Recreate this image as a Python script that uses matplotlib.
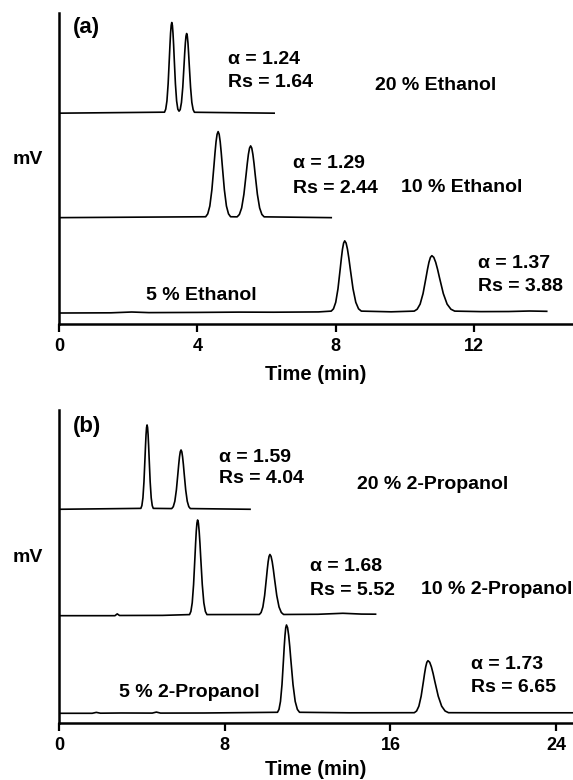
import matplotlib
matplotlib.use("Agg")
import matplotlib.pyplot as plt

plt.rcParams['font.family'] = ['Liberation Sans', 'DejaVu Sans']
plt.rcParams['font.weight'] = 'bold'

# ---- panel (a): ethanol, time in min, signal above baseline (a.u.)
eth20_t = [0.0, 3.05, 3.085, 3.12, 3.155, 3.19, 3.208, 3.225, 3.243, 3.26,
           3.278, 3.295, 3.313, 3.33, 3.365, 3.40, 3.435, 3.47,
           3.503, 3.54, 3.578, 3.615, 3.634, 3.653, 3.671, 3.69,
           3.709, 3.728, 3.746, 3.765, 3.803, 3.84, 3.878, 3.915, 6.22]
eth20_v = [0.0, 1.0, 4.0, 12.2, 29.4, 55.0, 68.4, 79.9, 87.8, 90.6,
           87.8, 79.9, 68.4, 55.0, 29.4, 12.2, 4.0, 2.0,
           3.5, 10.7, 25.9, 48.3, 60.1, 70.2, 77.1, 79.6,
           77.1, 70.2, 60.1, 48.3, 25.9, 10.7, 3.5, 0.9, 0.0]

eth10_t = [0.0, 4.24, 4.30, 4.36, 4.42, 4.48, 4.51, 4.54, 4.57, 4.60,
           4.63, 4.66, 4.69, 4.72, 4.78, 4.84, 4.90, 4.96,
           5.15, 5.215, 5.28, 5.345, 5.41, 5.443, 5.475, 5.508, 5.54,
           5.573, 5.605, 5.638, 5.67, 5.735, 5.80, 5.865, 5.93, 7.87]
eth10_v = [0.0, 0.9, 3.8, 11.6, 28.0, 52.2, 64.9, 75.9, 83.3, 86.0,
           83.3, 75.9, 64.9, 52.2, 28.0, 11.6, 3.8, 0.9,
           0.8, 3.2, 9.7, 23.3, 43.5, 54.1, 63.2, 69.5, 71.7,
           69.5, 63.2, 54.1, 43.5, 23.3, 9.7, 3.2, 0.8, 0.0]

eth5_t = [0.0, 1.5, 2.1, 2.6, 4.0, 5.2, 6.2, 7.5,
          7.87, 7.935, 8.00, 8.065, 8.13, 8.163, 8.195, 8.228, 8.26,
          8.30, 8.34, 8.38, 8.42, 8.50, 8.58, 8.66, 8.74, 9.6,
          10.27, 10.355, 10.44, 10.525, 10.61, 10.653, 10.695, 10.738, 10.78,
          10.835, 10.89, 10.945, 11.00, 11.11, 11.22, 11.33, 11.44,
          12.2, 13.0, 13.6, 14.1]
eth5_v = [0.0, 0.2, 1.0, 0.4, 0.6, 0.9, 0.8, 1.1,
          1.9, 4.2, 10.7, 24.2, 44.2, 54.7, 63.7, 69.9, 72.1,
          69.9, 63.7, 54.7, 44.2, 24.2, 10.7, 4.2, 1.9, 1.2,
          1.9, 3.8, 8.9, 19.5, 35.3, 43.6, 50.7, 55.6, 57.3,
          55.6, 50.7, 43.6, 35.3, 19.5, 8.9, 3.8, 1.9,
          1.4, 1.5, 2.0, 1.7]

# ---- panel (b): 2-propanol
pro20_t = [0.0, 3.95, 4.00, 4.05, 4.10, 4.15, 4.175, 4.20, 4.225, 4.25,
           4.275, 4.30, 4.325, 4.35, 4.40, 4.45, 4.50, 4.55,
           5.44, 5.515, 5.59, 5.665, 5.74, 5.778, 5.815, 5.853, 5.89,
           5.928, 5.965, 6.003, 6.04, 6.115, 6.19, 6.265, 6.34, 9.22]
pro20_v = [0.0, 0.9, 3.7, 11.4, 27.4, 51.2, 63.6, 74.4, 81.7, 84.3,
           81.7, 74.4, 63.6, 51.2, 27.4, 11.4, 3.7, 0.9,
           0.7, 2.6, 8.0, 19.3, 36.0, 44.8, 52.3, 57.5, 59.3,
           57.5, 52.3, 44.8, 36.0, 19.3, 8.0, 2.6, 0.7, 0.0]

pro10_t = [0.0, 2.7, 2.81, 2.92, 5.0,
           6.30, 6.365, 6.43, 6.495, 6.56, 6.593, 6.625, 6.658, 6.69,
           6.728, 6.765, 6.803, 6.84, 6.915, 6.99, 7.065, 7.14,
           9.67, 9.755, 9.84, 9.925, 10.01, 10.053, 10.095, 10.138, 10.18,
           10.235, 10.29, 10.345, 10.40, 10.51, 10.62, 10.73, 10.84,
           12.5, 13.7, 14.6, 15.28]
pro10_v = [0.0, 0.0, 1.8, 0.2, 0.3,
           1.1, 4.2, 12.9, 31.1, 58.1, 72.3, 84.4, 92.7, 95.7,
           92.7, 84.4, 72.3, 58.1, 31.1, 12.9, 4.2, 1.1,
           1.2, 3.2, 8.7, 20.2, 37.3, 46.3, 54.0, 59.3, 61.2,
           59.3, 54.0, 46.3, 37.3, 20.2, 8.7, 3.2, 1.2,
           1.4, 2.4, 1.6, 1.5]

pro5_t = [0.0, 1.6, 1.8, 2.0, 3.0, 4.5, 4.7, 4.9, 7.0,
          10.545, 10.618, 10.69, 10.763, 10.835, 10.871, 10.908, 10.944, 10.98,
          11.033, 11.085, 11.138, 11.19, 11.295, 11.40, 11.505, 11.61, 14.0,
          17.15, 17.26, 17.37, 17.48, 17.59, 17.645, 17.70, 17.755, 17.81,
          17.893, 17.975, 18.058, 18.14, 18.305, 18.47, 18.635, 18.80, 21.0, 25.0]
pro5_v = [0.0, 0.0, 0.9, 0.1, 0.3, 0.2, 1.2, 0.2, 0.3,
          1.0, 3.9, 11.9, 28.7, 53.6, 66.7, 77.9, 85.6, 88.3,
          85.6, 77.9, 66.7, 53.6, 28.7, 11.9, 3.9, 1.0, 0.5,
          0.6, 2.3, 7.1, 17.1, 31.9, 39.7, 46.4, 51.0, 52.6,
          51.0, 46.4, 39.7, 31.9, 17.1, 7.1, 2.3, 0.6, 0.5, 0.5]

eth_labels = ['20 % Ethanol', '10 % Ethanol', '5 % Ethanol']
eth_alpha = ['1.24', '1.29', '1.37']
eth_rs = ['1.64', '2.44', '3.88']
pro_labels = ['20 % 2-Propanol', '10 % 2-Propanol', '5 % 2-Propanol']
pro_alpha = ['1.59', '1.68', '1.73']
pro_rs = ['4.04', '5.52', '6.65']

fig = plt.figure(figsize=(5.73, 7.8), dpi=100)
axA = fig.add_axes([0.103, 0.5842, 0.897, 0.399])
axB = fig.add_axes([0.103, 0.0727, 0.897, 0.4017])

FS = 14


def style(ax, xmax, ymax, ticks, pad):
    ax.set_xlim(0, xmax)
    ax.set_ylim(0, ymax)
    for s in ['top', 'right']:
        ax.spines[s].set_visible(False)
    ax.spines['left'].set_linewidth(1.8)
    ax.spines['bottom'].set_linewidth(1.8)
    ax.set_yticks([])
    ax.set_xticks(ticks)
    ax.tick_params(axis='x', length=6, width=1.6, pad=4, labelsize=13)
    for lab in ax.get_xticklabels():
        lab.set_fontweight('bold')
    ax.set_xlabel('Time (min)', fontsize=14.5, fontweight='bold', labelpad=pad)
    ax.text(-0.06, 0.53, 'mV', transform=ax.transAxes, ha='center', va='center',
            fontsize=14, fontweight='bold')


def trace(ax, t, v, base):
    ax.plot(t, [base + y for y in v], color='black', lw=1.2,
            solid_joinstyle='round')


# panel a
style(axA, 14.86, 311, [0, 4, 8, 12], 7)
trace(axA, eth20_t, eth20_v, 211)
trace(axA, eth10_t, eth10_v, 106.6)
trace(axA, eth5_t, eth5_v, 11.3)
axA.text(0.405, 297, '(a)', fontsize=16, fontweight='bold', va='center')
for (xa, ya, yr), a, r in zip([(4.88, 264.3, 241.3), (6.76, 161, 136), (12.11, 60.3, 37.3)],
                              eth_alpha, eth_rs):
    axA.text(xa, ya, 'α = ' + a, fontsize=FS, fontweight='bold', va='center')
    axA.text(xa, yr, 'Rs = ' + r, fontsize=FS, fontweight='bold', va='center')
for (xl, yl), lab in zip([(9.14, 238.3), (9.89, 136.3), (2.51, 29.3)], eth_labels):
    axA.text(xl, yl, lab, fontsize=FS, fontweight='bold', va='center')

# panel b
style(axB, 24.81, 313.3, [0, 8, 16, 24], 4)
trace(axB, pro20_t, pro20_v, 214)
trace(axB, pro10_t, pro10_v, 107.6)
trace(axB, pro5_t, pro5_v, 10)
axB.text(0.676, 296.3, '(b)', fontsize=16, fontweight='bold', va='center')
for (xa, ya, yr), a, r in zip([(7.74, 265.3, 244.3), (12.1, 156.3, 132.3), (19.9, 58.3, 35.6)],
                              pro_alpha, pro_rs):
    axB.text(xa, ya, 'α = ' + a, fontsize=FS, fontweight='bold', va='center')
    axB.text(xa, yr, 'Rs = ' + r, fontsize=FS, fontweight='bold', va='center')
for (xl, yl), lab in zip([(14.38, 238.3), (17.47, 133.3), (2.91, 31)], pro_labels):
    axB.text(xl, yl, lab, fontsize=FS, fontweight='bold', va='center')

fig.savefig('out.png', dpi=100)
